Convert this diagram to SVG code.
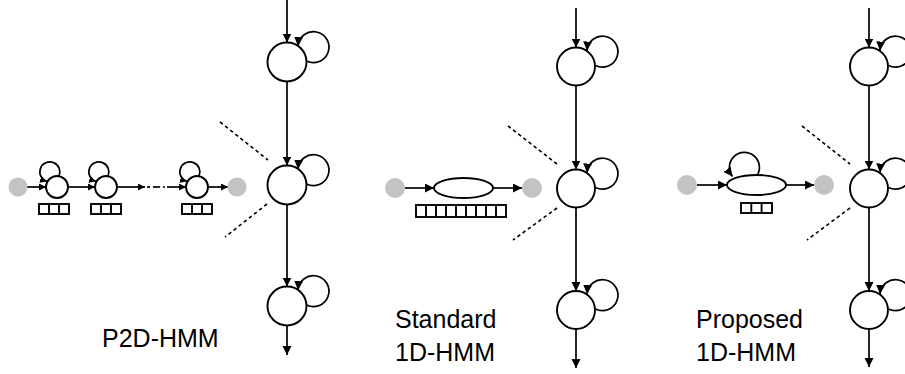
<svg xmlns="http://www.w3.org/2000/svg" width="905" height="374" viewBox="0 0 905 374">
<style>
.ln{stroke:#000;stroke-width:1.7;fill:none}
.st{stroke:#000;stroke-width:1.9;fill:#fff}
.gr{fill:#c3c3c3;stroke:none}
.dt{stroke:#000;stroke-width:1.6;fill:none;stroke-dasharray:3.5,3}
.bx{stroke:#000;stroke-width:1.9;fill:#fff}
.tx{font-family:"Liberation Sans",Arial,Helvetica,sans-serif;font-size:25px;fill:#000}
</style>
<defs>
<marker id="a" markerUnits="userSpaceOnUse" markerWidth="11" markerHeight="10" refX="9" refY="4.5" orient="auto"><path d="M0,0 L9,4.5 L0,9 z" fill="#000"/></marker>
<marker id="s" markerUnits="userSpaceOnUse" markerWidth="9" markerHeight="8" refX="7" refY="3.5" orient="auto"><path d="M0,0 L7,3.5 L0,7 z" fill="#000"/></marker>
</defs>
<rect width="905" height="374" fill="#fff"/>

<g id="connectors">
<!-- panel 1 vertical -->
<line class="ln" x1="287" y1="0" x2="287" y2="42.5" marker-end="url(#a)"/>
<line class="ln" x1="287" y1="81.5" x2="287" y2="165.5" marker-end="url(#a)"/>
<line class="ln" x1="287" y1="204.5" x2="287" y2="286.5" marker-end="url(#a)"/>
<line class="ln" x1="287" y1="325.5" x2="287" y2="355" marker-end="url(#a)"/>
<path class="ln" d="M306.5,61 A15.5,15.5 0 1 0 298,46" marker-end="url(#a)"/>
<path class="ln" d="M306.5,184 A15.5,15.5 0 1 0 298,169" marker-end="url(#a)"/>
<path class="ln" d="M306.5,305 A15.5,15.5 0 1 0 298,290" marker-end="url(#a)"/>
<!-- panel 1 horizontal -->
<line class="ln" x1="27" y1="187" x2="46" y2="187" marker-end="url(#s)"/>
<line class="ln" x1="68" y1="187" x2="95" y2="187" marker-end="url(#s)"/>
<line class="ln" x1="117" y1="187" x2="145" y2="187" marker-end="url(#s)"/>
<line class="ln" x1="147" y1="187" x2="150" y2="187"/>
<line class="ln" x1="153" y1="187" x2="160" y2="187"/>
<line class="ln" x1="163" y1="187" x2="165" y2="187"/>
<line class="ln" x1="167" y1="187" x2="186" y2="187" marker-end="url(#s)"/>
<line class="ln" x1="208" y1="187" x2="228" y2="187" marker-end="url(#s)"/>
<path class="ln" d="M59,176 A10,10 0 1 0 47,181.5" marker-end="url(#s)"/>
<path class="ln" d="M108,176 A10,10 0 1 0 96,181.5" marker-end="url(#s)"/>
<path class="ln" d="M199,176 A10,10 0 1 0 187,181.5" marker-end="url(#s)"/>
<line class="dt" x1="220" y1="122" x2="268" y2="160"/>
<line class="dt" x1="267" y1="204" x2="225" y2="237"/>

<!-- panel 2 vertical -->
<line class="ln" x1="576" y1="8" x2="576" y2="47.5" marker-end="url(#a)"/>
<line class="ln" x1="576" y1="85.5" x2="576" y2="169.5" marker-end="url(#a)"/>
<line class="ln" x1="576" y1="207.5" x2="576" y2="291" marker-end="url(#a)"/>
<line class="ln" x1="576" y1="329" x2="576" y2="368" marker-end="url(#a)"/>
<path class="ln" d="M595.5,65.5 A15.5,15.5 0 1 0 587,50.5" marker-end="url(#a)"/>
<path class="ln" d="M595.5,187.5 A15.5,15.5 0 1 0 587,172.5" marker-end="url(#a)"/>
<path class="ln" d="M595.5,309 A15.5,15.5 0 1 0 587,294" marker-end="url(#a)"/>
<!-- panel 2 horizontal -->
<line class="ln" x1="405" y1="188" x2="434" y2="188" marker-end="url(#a)"/>
<line class="ln" x1="493" y1="188" x2="522" y2="188" marker-end="url(#a)"/>
<line class="dt" x1="508" y1="126" x2="557" y2="164"/>
<line class="dt" x1="557" y1="208" x2="513" y2="240"/>

<!-- panel 3 vertical -->
<line class="ln" x1="869" y1="8" x2="869" y2="47.5" marker-end="url(#a)"/>
<line class="ln" x1="869" y1="85.5" x2="869" y2="169.5" marker-end="url(#a)"/>
<line class="ln" x1="869" y1="207.5" x2="869" y2="291" marker-end="url(#a)"/>
<line class="ln" x1="869" y1="329" x2="869" y2="367" marker-end="url(#a)"/>
<path class="ln" d="M888.5,65.5 A15.5,15.5 0 1 0 880,50.5" marker-end="url(#a)"/>
<path class="ln" d="M888.5,187.5 A15.5,15.5 0 1 0 880,172.5" marker-end="url(#a)"/>
<path class="ln" d="M888.5,309 A15.5,15.5 0 1 0 880,294" marker-end="url(#a)"/>
<!-- panel 3 horizontal -->
<line class="ln" x1="697" y1="185" x2="727" y2="185" marker-end="url(#a)"/>
<line class="ln" x1="786" y1="185" x2="814" y2="185" marker-end="url(#a)"/>
<path class="ln" d="M757,175.5 A15,15 0 1 0 732.5,176.5" marker-end="url(#a)"/>
<line class="dt" x1="802" y1="126" x2="850" y2="164"/>
<line class="dt" x1="850" y1="208" x2="807" y2="240"/>
</g>

<!-- panel 1 nodes -->
<g id="p1-v1"><circle class="st" cx="287" cy="62" r="19.5"/></g>
<g id="p1-v2"><circle class="st" cx="287" cy="185" r="19.5"/></g>
<g id="p1-v3"><circle class="st" cx="287" cy="306" r="19.5"/></g>
<g id="p1-start"><circle class="gr" cx="18" cy="187" r="9.5"/></g>
<g id="p1-h1"><circle class="st" cx="57" cy="187" r="11"/>
<rect class="bx" x="39" y="204" width="30" height="10"/><line class="bx" x1="49" y1="204" x2="49" y2="214"/><line class="bx" x1="59" y1="204" x2="59" y2="214"/></g>
<g id="p1-h2"><circle class="st" cx="106" cy="187" r="11"/>
<rect class="bx" x="91" y="204" width="30" height="10"/><line class="bx" x1="101" y1="204" x2="101" y2="214"/><line class="bx" x1="111" y1="204" x2="111" y2="214"/></g>
<g id="p1-h3"><circle class="st" cx="197" cy="187" r="11"/>
<rect class="bx" x="182" y="204" width="30" height="10"/><line class="bx" x1="192" y1="204" x2="192" y2="214"/><line class="bx" x1="202" y1="204" x2="202" y2="214"/></g>
<g id="p1-end"><circle class="gr" cx="237" cy="187" r="9.5"/></g>
<g id="p1-label"><text class="tx" x="102" y="347">P2D-HMM</text></g>

<!-- panel 2 nodes -->
<g id="p2-v1"><circle class="st" cx="576" cy="66.5" r="19"/></g>
<g id="p2-v2"><circle class="st" cx="576" cy="188.5" r="19"/></g>
<g id="p2-v3"><circle class="st" cx="576" cy="310" r="19"/></g>
<g id="p2-start"><circle class="gr" cx="395" cy="188" r="10"/></g>
<g id="p2-h"><ellipse class="st" cx="463.5" cy="188" rx="29.5" ry="10"/>
<rect class="bx" x="416" y="205" width="90" height="12"/>
<path class="bx" d="M426,205V217M436,205V217M446,205V217M456,205V217M466,205V217M476,205V217M486,205V217M496,205V217"/></g>
<g id="p2-end"><circle class="gr" cx="532" cy="188" r="10"/></g>
<g id="p2-label"><text class="tx" x="395" y="328">Standard</text><text class="tx" x="395" y="361">1D-HMM</text></g>

<!-- panel 3 nodes -->
<g id="p3-v1"><circle class="st" cx="869" cy="66.5" r="19"/></g>
<g id="p3-v2"><circle class="st" cx="869" cy="188.5" r="19"/></g>
<g id="p3-v3"><circle class="st" cx="869" cy="310" r="19"/></g>
<g id="p3-start"><circle class="gr" cx="687" cy="185" r="10"/></g>
<g id="p3-h"><ellipse class="st" cx="756.5" cy="185" rx="29.5" ry="10"/>
<rect class="bx" x="741" y="203" width="31" height="10"/><line class="bx" x1="751.3" y1="203" x2="751.3" y2="213"/><line class="bx" x1="761.6" y1="203" x2="761.6" y2="213"/></g>
<g id="p3-end"><circle class="gr" cx="824" cy="185" r="10"/></g>
<g id="p3-label"><text class="tx" x="696" y="328">Proposed</text><text class="tx" x="696" y="361">1D-HMM</text></g>
</svg>
